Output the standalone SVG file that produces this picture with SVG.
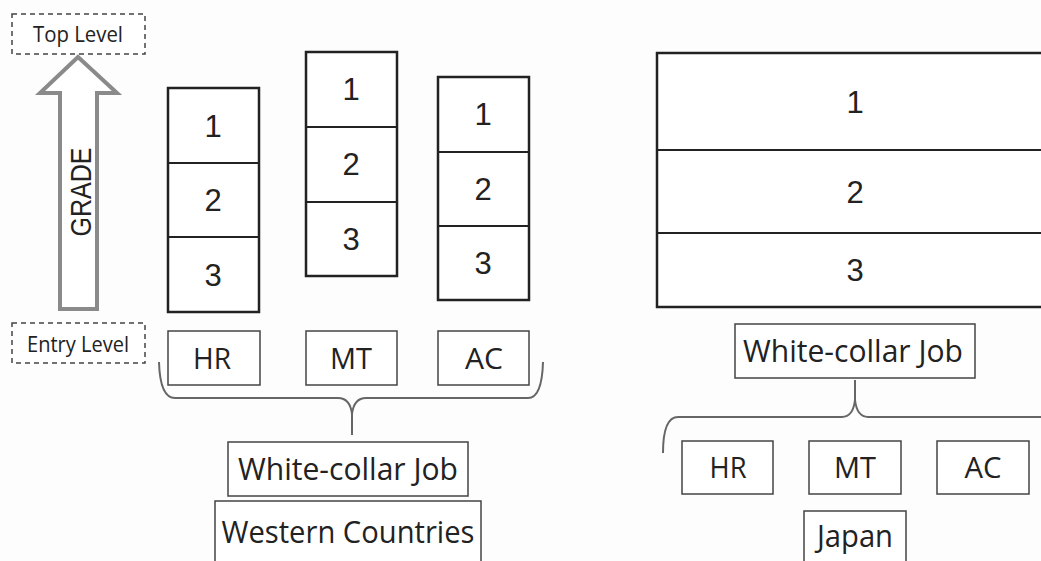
<svg xmlns="http://www.w3.org/2000/svg" width="1041" height="561" viewBox="0 0 1041 561">
<style>
.grid{fill:#fff;stroke:#222;stroke-width:2.5}
.div{stroke:#222;stroke-width:2}
.lbl{fill:#fff;stroke:#444;stroke-width:1.5}
.dash{fill:#fff;stroke:#444;stroke-width:1.5;stroke-dasharray:5 4}
.num{font-family:"Liberation Sans",Arial,sans-serif;font-size:31px;fill:#222;text-anchor:middle}
.t{font-family:"Open Sans","Noto Sans",sans-serif;fill:#222;text-anchor:middle}
.brace{fill:none;stroke:#666;stroke-width:2}
</style>
<rect width="1041" height="561" fill="#fdfdfd"/>
<g id="top-level">
<rect class="dash" x="12" y="14" width="133" height="40"/>
<text class="t" x="78" y="42" font-size="21" textLength="90" lengthAdjust="spacingAndGlyphs">Top Level</text>
</g>
<g id="entry-level">
<rect class="dash" x="12" y="323" width="133" height="40"/>
<text class="t" x="78" y="352" font-size="21" textLength="102" lengthAdjust="spacingAndGlyphs">Entry Level</text>
</g>
<g id="grade-arrow">
<polygon points="78,57 117,93 97,93 97,309 60,309 60,93 40,93" fill="#fff" stroke="#8a8a8a" stroke-width="4" stroke-linejoin="miter"/>
<text x="0" y="0" transform="translate(91,192) rotate(-90)" font-family="Liberation Sans,Arial,sans-serif" font-size="29" fill="#222" text-anchor="middle" textLength="89" lengthAdjust="spacingAndGlyphs">GRADE</text>
</g>
<g id="hr-grades">
<rect class="grid" x="168" y="88" width="91" height="224"/>
<line class="div" x1="168" y1="163" x2="259" y2="163"/>
<line class="div" x1="168" y1="237" x2="259" y2="237"/>
<text class="num" x="213" y="137">1</text>
<text class="num" x="213" y="211">2</text>
<text class="num" x="213" y="286">3</text>
</g>
<g id="mt-grades">
<rect class="grid" x="306" y="52" width="91" height="224"/>
<line class="div" x1="306" y1="127" x2="397" y2="127"/>
<line class="div" x1="306" y1="202" x2="397" y2="202"/>
<text class="num" x="351" y="100">1</text>
<text class="num" x="351" y="175">2</text>
<text class="num" x="351" y="250">3</text>
</g>
<g id="ac-grades">
<rect class="grid" x="438" y="77" width="91" height="223"/>
<line class="div" x1="438" y1="152" x2="529" y2="152"/>
<line class="div" x1="438" y1="226" x2="529" y2="226"/>
<text class="num" x="483" y="125">1</text>
<text class="num" x="483" y="200">2</text>
<text class="num" x="483" y="274">3</text>
</g>
<g id="hr-left">
<rect class="lbl" x="168" y="331" width="92" height="54"/>
<text class="t" x="212" y="369" font-size="29" textLength="38" lengthAdjust="spacingAndGlyphs">HR</text>
</g>
<g id="mt-left">
<rect class="lbl" x="306" y="331" width="91" height="54"/>
<text class="t" x="351" y="369" font-size="29" textLength="42" lengthAdjust="spacingAndGlyphs">MT</text>
</g>
<g id="ac-left">
<rect class="lbl" x="438" y="331" width="91" height="54"/>
<text class="t" x="484" y="369" font-size="29" textLength="38" lengthAdjust="spacingAndGlyphs">AC</text>
</g>
<g id="wcj-left">
<rect class="lbl" x="228" y="442" width="240" height="54"/>
<text class="t" x="348" y="480" font-size="31" textLength="220" lengthAdjust="spacingAndGlyphs">White-collar Job</text>
</g>
<g id="western">
<rect class="lbl" x="215" y="501" width="266" height="70"/>
<text class="t" x="348" y="543" font-size="31" textLength="253" lengthAdjust="spacingAndGlyphs">Western Countries</text>
</g>
<g id="japan-grades">
<rect class="grid" x="657" y="53" width="400" height="254"/>
<line class="div" x1="657" y1="150" x2="1045" y2="150"/>
<line class="div" x1="657" y1="233" x2="1045" y2="233"/>
<text class="num" x="855" y="113">1</text>
<text class="num" x="855" y="203">2</text>
<text class="num" x="855" y="281">3</text>
</g>
<g id="wcj-right">
<rect class="lbl" x="735" y="324" width="240" height="54"/>
<text class="t" x="853" y="362" font-size="31" textLength="220" lengthAdjust="spacingAndGlyphs">White-collar Job</text>
</g>
<g id="hr-right">
<rect class="lbl" x="682" y="441" width="91" height="53"/>
<text class="t" x="728" y="478" font-size="29" textLength="37" lengthAdjust="spacingAndGlyphs">HR</text>
</g>
<g id="mt-right">
<rect class="lbl" x="809" y="441" width="92" height="53"/>
<text class="t" x="855" y="478" font-size="29" textLength="42" lengthAdjust="spacingAndGlyphs">MT</text>
</g>
<g id="ac-right">
<rect class="lbl" x="937" y="441" width="92" height="53"/>
<text class="t" x="983" y="478" font-size="29" textLength="37" lengthAdjust="spacingAndGlyphs">AC</text>
</g>
<g id="japan">
<rect class="lbl" x="804" y="511" width="102" height="60"/>
<text class="t" x="855" y="547" font-size="31" textLength="76" lengthAdjust="spacingAndGlyphs">Japan</text>
</g>
<g id="connectors">
<path class="brace" d="M159,362 Q160,398 175,398 L338,398 Q350,398 352,414 L352,435 M352,414 Q354,398 366,398 L528,398 Q542,398 543,362"/>
<path class="brace" d="M663,453 Q663,417 678,417 L842,417 Q853,417 855,400 L855,380 M855,400 Q857,417 868,417 L1045,417"/>
</g>
</svg>
